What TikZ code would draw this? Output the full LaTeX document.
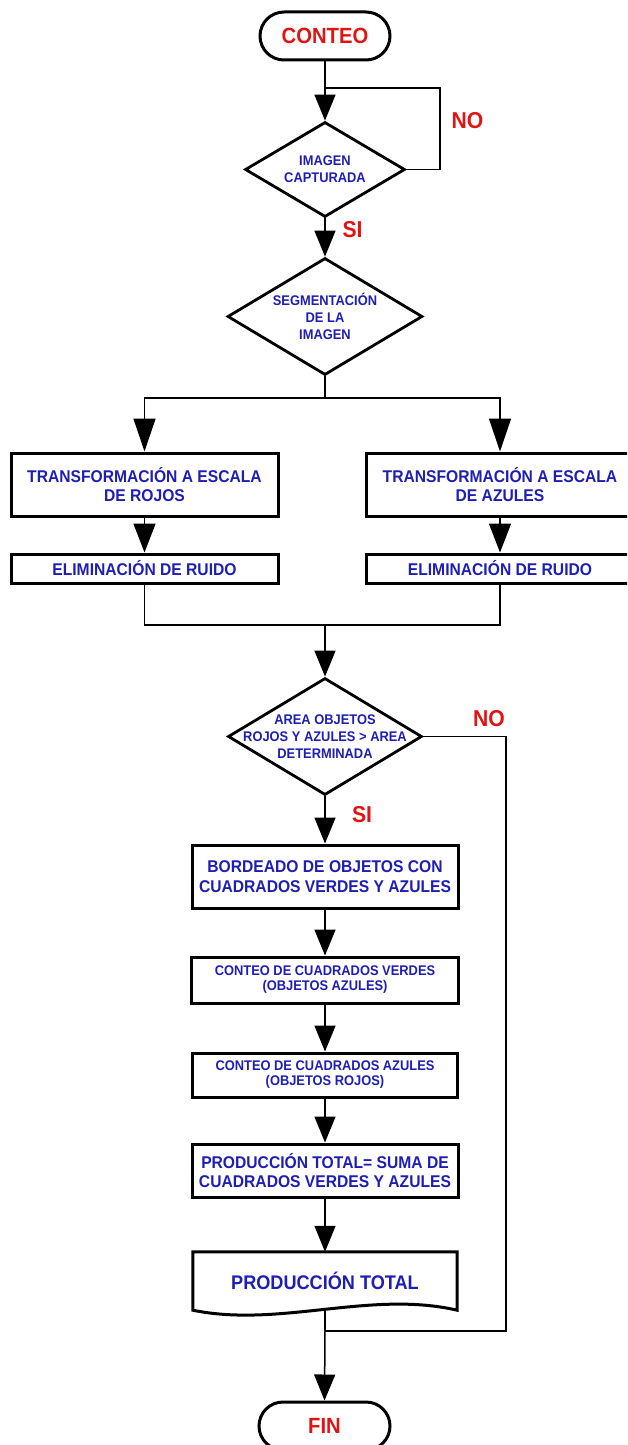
\documentclass[tikz,border=0pt]{standalone}
\usepackage{fontspec}
\setmainfont{Liberation Sans}[FakeStretch=0.92]
\usetikzlibrary{arrows.meta,shapes.geometric}
\definecolor{tblue}{RGB}{30,30,180}
\definecolor{tred}{RGB}{225,20,20}
\newcommand{\fsz}[2]{\fontsize{#1}{#2}\selectfont\bfseries}
\tikzset{
  conn/.style={line width=1.5pt, draw=black},
  arr/.style={conn, -{Triangle[width=21pt,length=26pt]}},
  arrbig/.style={conn, -{Triangle[width=22pt,length=33pt]}},
  arrmid/.style={conn, -{Triangle[width=22pt,length=29pt]}},
  box/.style={draw, line width=3pt, rectangle, inner sep=0pt, align=center, text=tblue},
  bigtxt/.style={font=\fsz{17}{19.5}},
  smalltxt/.style={font=\fsz{14}{15}},
  term/.style={draw, line width=3pt, rectangle, rounded corners=24pt, minimum height=48pt, inner sep=0pt, text=tred, font=\fsz{22}{26}},
  dia/.style={draw, diamond, line width=2.8pt, inner sep=0pt},
  dtxt/.style={align=center, text=tblue, font=\fsz{14}{16.7}, inner sep=0pt},
  lab/.style={text=tred, font=\fsz{23}{26}, inner sep=0pt}
}
\begin{document}
\begin{tikzpicture}[x=1pt,y=-1pt]
\useasboundingbox (0,0) rectangle (627,1445);
\clip (0,0) rectangle (627,1445);

% nodes
\node[term, minimum width=130pt] (conteo) at (325,36) {CONTEO};
\node[dia, minimum width=160pt, minimum height=95pt] (d1) at (325,169.5) {};
\node[dtxt] (d1t) at (325,169.5) {IMAGEN\\CAPTURADA};
\node[lab] (no1) at (467.5,120.5) {NO};
\node[lab] (si1) at (352.5,230) {SI};

\node[dia, minimum width=195pt, minimum height=117pt] (d2) at (325,316.5) {};
\node[dtxt] (d2t) at (325,316.5) {SEGMENTACIÓN\\DE LA\\IMAGEN};

\node[box, bigtxt, minimum width=267pt, minimum height=63pt] (L1) at (144.5,484.5) {TRANSFORMACIÓN A ESCALA\\DE ROJOS};
\node[box, bigtxt, minimum width=267pt, minimum height=63pt] (R1) at (500,484.5) {TRANSFORMACIÓN A ESCALA\\DE AZULES};
\node[box, bigtxt, minimum width=267pt, minimum height=29pt] (L2) at (144.5,568.5) {ELIMINACIÓN DE RUIDO};
\node[box, bigtxt, minimum width=267pt, minimum height=29pt] (R2) at (500,568.5) {ELIMINACIÓN DE RUIDO};

\node[dia, minimum width=194pt, minimum height=117pt] (d3) at (325,736.5) {};
\node[dtxt] (d3t) at (325,736.5) {AREA OBJETOS\\ROJOS Y AZULES > AREA\\DETERMINADA};
\node[lab] (no2) at (489,719) {NO};
\node[lab] (si2) at (362,815) {SI};

\node[box, bigtxt, minimum width=266pt, minimum height=63pt] (B1) at (325,876.5) {BORDEADO DE OBJETOS CON\\CUADRADOS VERDES Y AZULES};
\node[box, smalltxt, minimum width=267pt, minimum height=46pt] (B2) at (325,980) {CONTEO DE CUADRADOS VERDES\\(OBJETOS AZULES)};
\node[box, smalltxt, minimum width=265pt, minimum height=44pt] (B3) at (325,1075) {CONTEO DE CUADRADOS AZULES\\(OBJETOS ROJOS)};
\node[box, bigtxt, minimum width=266pt, minimum height=53pt] (B4) at (325,1170.5) {PRODUCCIÓN TOTAL= SUMA DE\\CUADRADOS VERDES Y AZULES};

\node[rectangle, inner sep=0pt, minimum width=264pt, minimum height=58pt, text=tblue, font=\fsz{19.7}{22}] (doc) at (325,1281) {PRODUCCIÓN TOTAL};
\draw[line width=3pt, line join=miter] (doc.south east) -- (doc.north east) -- (doc.north west) -- (doc.south west)
  .. controls (280,1328) and (370,1290) .. (doc.south east) -- cycle;

\node[term, minimum width=131pt] (fin) at (324.5,1426) {FIN};

% coordinates
\coordinate (loopc) at (440,88);
\coordinate (loopj) at (325,88);
\coordinate (brc) at (325,398);
\coordinate (mrg) at (325,625);
\coordinate (nob) at (506,1331);
\coordinate (fj) at (325,1331);

% connectors
\draw[arr] (conteo.south) -- (d1.north);
\draw[conn] (d1.east) -| (loopc) -- (loopj);
\draw[arr] (d1.south) -- (d2.north);
\draw[conn] (d2.south) -- (brc);
\draw[arrbig] (brc) -| (L1.north);
\draw[arrbig] (brc) -| (R1.north);
\draw[arrmid] (L1.south) -- (L2.north);
\draw[arrmid] (R1.south) -- (R2.north);
\draw[conn] (L2.south) |- (mrg) -| (R2.south);
\draw[arr] (mrg) -- (d3.north);
\draw[arr] (d3.south) -- (B1.north);
\draw[arr] (B1.south) -- (B2.north);
\draw[arr] (B2.south) -- (B3.north);
\draw[arr] (B3.south) -- (B4.north);
\draw[arr] (B4.south) -- (doc.north);
\draw[conn] (d3.east) -| (nob) -- (fj);
\draw[conn] (doc.south) -- (fj);
\draw[arr] (fj) -- (fin.north);
\end{tikzpicture}
\end{document}
